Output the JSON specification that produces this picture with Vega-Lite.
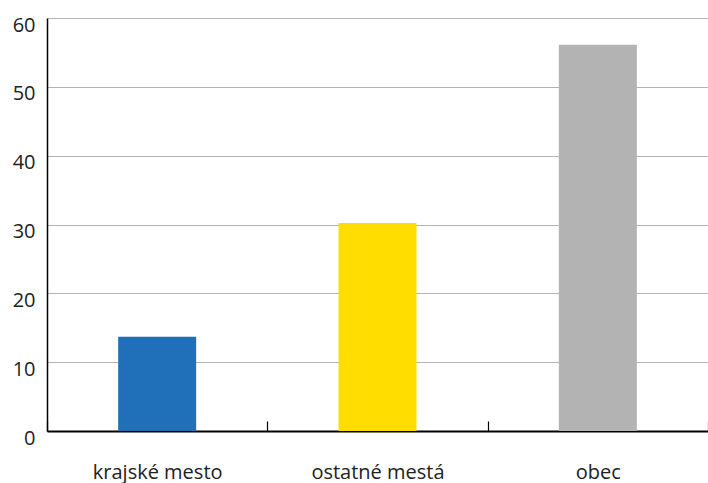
{
  "$schema": "https://vega.github.io/schema/vega-lite/v6.json",
  "width": 661,
  "height": 413,
  "padding": {"left": 0, "top": 15, "right": 0, "bottom": 0},
  "background": "white",
  "data": {"values": [
    {"kategoria": "krajské mesto", "hodnota": 13.7},
    {"kategoria": "ostatné mestá", "hodnota": 30.2},
    {"kategoria": "obec", "hodnota": 56.1}
  ]},
  "config": {
    "view": {"stroke": null},
    "font": "Open Sans"
  },
  "mark": {"type": "bar", "width": {"band": 0.354}},
  "encoding": {
    "x": {
      "field": "kategoria", "type": "nominal", "sort": null,
      "scale": {"paddingInner": 0, "paddingOuter": 0},
      "axis": {
        "title": null, "labelAngle": 0, "tickBand": "extent",
        "tickSize": -10, "tickColor": "#000", "tickWidth": 1.2,
        "domainColor": "#000", "domainWidth": 2,
        "labelFontSize": 20, "labelColor": "#222", "labelPadding": 41,
        "labelFont": "Open Sans", "labelFontWeight": 400,
        "minExtent": 52, "maxExtent": 52, "grid": false
      }
    },
    "y": {
      "field": "hodnota", "type": "quantitative",
      "scale": {"domain": [0, 60]},
      "axis": {
        "title": null, "values": [0, 10, 20, 30, 40, 50, 60],
        "ticks": false, "domainColor": "#000", "domainWidth": 1.5,
        "gridColor": "#b3b3b3", "gridWidth": 1.2,
        "labelFontSize": 20, "labelColor": "#222", "labelPadding": 12,
        "labelOffset": 7, "labelFont": "Open Sans",
        "minExtent": 47, "maxExtent": 47
      }
    },
    "color": {
      "field": "kategoria", "type": "nominal", "legend": null,
      "scale": {"domain": ["krajské mesto", "ostatné mestá", "obec"], "range": ["#1f70b8", "#ffdd00", "#b3b3b3"]}
    }
  }
}
